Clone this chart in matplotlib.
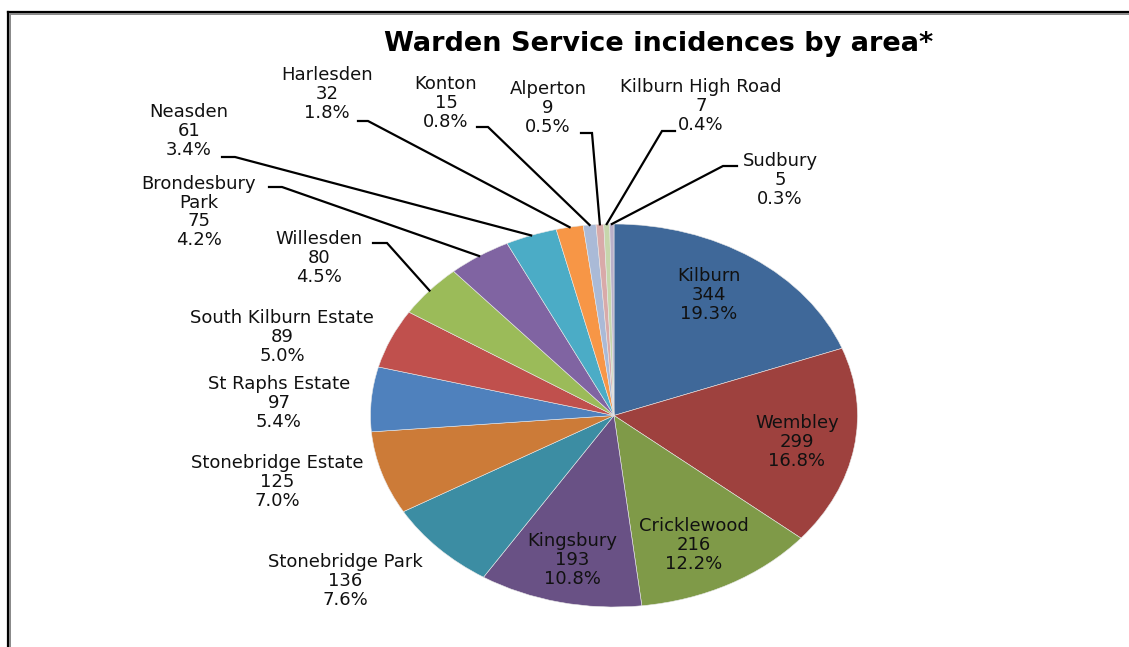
import numpy as np
import matplotlib
matplotlib.use("Agg")
import matplotlib.pyplot as plt

# data
areas = [
    "Kilburn", "Wembley", "Cricklewood", "Kingsbury", "Stonebridge Park",
    "Stonebridge Estate", "St Raphs Estate", "South Kilburn Estate",
    "Willesden", "Brondesbury\nPark", "Neasden", "Harlesden", "Konton",
    "Alperton", "Kilburn High Road", "Sudbury",
]
counts = [344, 299, 216, 193, 136, 125, 97, 89, 80, 75, 61, 32, 15, 9, 7, 5]
pct_labels = ["19.3%", "16.8%", "12.2%", "10.8%", "7.6%", "7.0%", "5.4%",
              "5.0%", "4.5%", "4.2%", "3.4%", "1.8%", "0.8%", "0.5%",
              "0.4%", "0.3%"]

colors = ["#3F6899", "#9E413E", "#7F9A48", "#695185", "#3C8DA3", "#CC7B38",
          "#4F81BD", "#C0504D", "#9BBB59", "#8064A2", "#4BACC6", "#F79646",
          "#AABAD7", "#D9AAA9", "#C6D6AC", "#BAB0C9"]

# layout, in pixels of the 1129x647 figure
W, H = 1129, 647
CX, CY, RX, RY = 614, 415.5, 243.5, 191.5

# label centres (px); for outside labels also leader elbow (x, y) and outer end x
label_pos = {
    0: (709, 295), 1: (797, 442), 2: (694, 545), 3: (572, 560),
    4: (345, 581), 5: (277, 482), 6: (279, 403), 7: (282, 337),
    8: (319, 258), 9: (199, 212), 10: (189, 131), 11: (327, 94),
    12: (446, 103), 13: (548, 108), 14: (701, 106), 15: (780, 180),
}
leaders = {
    8: ((387, 243), 373),
    9: ((282, 187), 269),
    10: ((235, 157), 222),
    11: ((368, 121), 358),
    12: ((488, 127), 477),
    13: ((592, 133), 581),
    14: ((662, 131), 675),
    15: ((723, 166), 737),
}


def px(x, y):
    return (x - CX) / RX, (CY - y) / RY


fig = plt.figure(figsize=(W / 100, H / 100), dpi=100)
ax = fig.add_axes([0, 0, 1, 1])

wedges, _ = ax.pie(counts, colors=colors, startangle=90, counterclock=False,
                   radius=1, wedgeprops=dict(edgecolor="#e8e8e8", linewidth=0.4))
ax.set_aspect("auto")
x0, y0 = px(0, H)
x1, y1 = px(W, 0)
ax.set_xlim(x0, x1)
ax.set_ylim(y0, y1)
ax.axis("off")

font = dict(family="DejaVu Sans", fontsize=13, color="#111111")

for i, w in enumerate(wedges):
    txt = f"{areas[i]}\n{counts[i]}\n{pct_labels[i]}"
    tx, ty = px(*label_pos[i])
    ax.text(tx, ty, txt, ha="center", va="center", linespacing=1.05, **font)
    if i in leaders:
        mid = np.deg2rad((w.theta1 + w.theta2) / 2)
        ex, ey = np.cos(mid), np.sin(mid)
        (bx, by), endx = leaders[i]
        bx, by = px(bx, by)
        ox, _ = px(endx, 0)
        ax.plot([ex, bx, ox], [ey, by, by], color="black", lw=1.6,
                solid_joinstyle="miter")

# title
tx, ty = px(659, 44)
ax.text(tx, ty, "Warden Service incidences by area*", ha="center", va="center",
        family="DejaVu Sans", fontsize=19.5, fontweight="bold")

# frame lines (top and left)
fig.add_artist(plt.Line2D([7.5 / W, 1], [1 - 11.5 / H, 1 - 11.5 / H],
                          transform=fig.transFigure, color="black", lw=1.6))
fig.add_artist(plt.Line2D([10 / W, 1], [1 - 13.5 / H, 1 - 13.5 / H],
                          transform=fig.transFigure, color="#888888", lw=1.4))
fig.add_artist(plt.Line2D([7.5 / W, 7.5 / W], [0, 1 - 11.5 / H],
                          transform=fig.transFigure, color="black", lw=1.6))
fig.add_artist(plt.Line2D([10 / W, 10 / W], [0, 1 - 13.5 / H],
                          transform=fig.transFigure, color="#888888", lw=1.4))

fig.savefig("out.png", dpi=100)
